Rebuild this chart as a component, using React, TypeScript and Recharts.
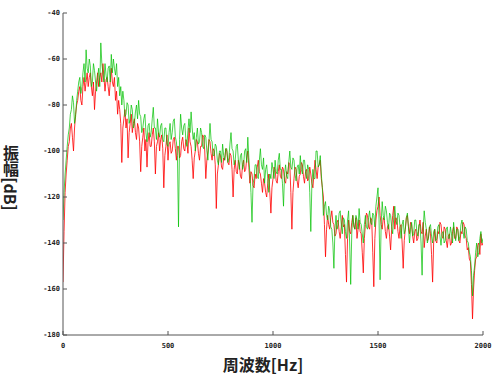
import React from 'react';
import { LineChart, Line, XAxis, YAxis } from 'recharts';

// Frequency grid (Hz), 5 Hz steps from 0 to 2000
const freqs: number[] = Array.from({ length: 401 }, (_, i) => i * 5);

// Green series (dB), one row = 50 Hz
const greenDb: number[] = [
  -130, -118, -110, -104, -98, -93, -90, -84, -82, -76,
  -79, -88, -85, -78, -74, -70, -68, -75, -72, -66,
  -62, -70, -56, -64, -66, -60, -63, -72, -70, -62,
  -65, -70, -74, -68, -64, -72, -53, -62, -66, -70,
  -62, -67, -70, -64, -63, -70, -58, -66, -60, -64,
  -67, -62, -72, -68, -76, -72, -80, -74, -78, -85,
  -84, -79, -80, -88, -86, -80, -82, -90, -88, -83,
  -80, -86, -78, -84, -85, -92, -90, -86, -84, -92,
  -96, -89, -88, -94, -92, -86, -81, -90, -90, -95,
  -86, -92, -94, -89, -88, -95, -96, -90, -90, -97,
  -98, -92, -88, -95, -92, -87, -86, -94, -96, -102,
  -133, -95, -84, -90, -93, -89, -88, -95, -98, -91,
  -86, -92, -83, -90, -95, -92, -100, -94, -90, -97,
  -96, -90, -92, -98, -99, -93, -94, -100, -104, -96,
  -88, -95, -96, -102, -102, -97, -98, -104, -106, -100,
  -100, -105, -97, -102, -104, -99, -99, -105, -103, -97,
  -92, -99, -100, -106, -104, -98, -97, -104, -108, -102,
  -101, -108, -106, -100, -99, -105, -94, -103, -110, -118,
  -131, -114, -112, -106, -106, -111, -112, -104, -99, -106,
  -108, -103, -114, -108, -106, -112, -118, -110, -112, -105,
  -108, -112, -104, -109, -110, -104, -101, -108, -108, -114,
  -124, -110, -106, -111, -112, -105, -100, -107, -108, -103,
  -104, -110, -113, -107, -106, -110, -102, -108, -110, -104,
  -104, -109, -112, -106, -108, -118, -135, -115, -108, -112,
  -112, -100, -100, -107, -106, -102, -110, -116, -128, -124,
  -122, -128, -130, -124, -126, -133, -134, -140, -151, -134,
  -128, -134, -132, -127, -126, -132, -136, -129, -130, -135,
  -138, -130, -126, -140, -158, -136, -128, -132, -134, -128,
  -130, -134, -125, -131, -132, -136, -140, -132, -128, -133,
  -134, -129, -126, -131, -132, -127, -128, -133, -124, -120,
  -116, -130, -156, -132, -122, -128, -130, -124, -126, -131,
  -134, -127, -128, -133, -136, -129, -124, -130, -132, -127,
  -128, -133, -138, -132, -130, -136, -134, -129, -127, -133,
  -140, -134, -131, -137, -136, -130, -130, -135, -137, -132,
  -132, -140, -154, -134, -126, -131, -134, -140, -138, -133,
  -132, -137, -140, -135, -134, -139, -138, -133, -132, -137,
  -141, -136, -135, -140, -139, -134, -133, -138, -138, -133,
  -136, -140, -131, -136, -139, -134, -134, -139, -137, -132,
  -130, -135, -138, -133, -134, -139, -140, -144, -146, -152,
  -163, -154, -150, -144, -140, -146, -144, -138, -135, -140,
  -138,
];

// Red series (dB), one row = 50 Hz
const redDb: number[] = [
  -157, -135, -118, -110, -104, -98, -96, -90, -88, -94,
  -100, -90, -84, -80, -78, -74, -72, -78, -80, -72,
  -68, -74, -70, -66, -72, -68, -66, -72, -76, -70,
  -82, -74, -70, -66, -72, -68, -66, -70, -62, -68,
  -74, -69, -68, -72, -76, -70, -64, -70, -72, -68,
  -78, -74, -84, -78, -82, -88, -105, -90, -86, -82,
  -90, -86, -103, -92, -88, -84, -92, -88, -86, -92,
  -95, -88, -90, -96, -109, -98, -94, -90, -100, -95,
  -107, -96, -92, -98, -98, -93, -90, -96, -110, -98,
  -96, -92, -100, -95, -93, -99, -116, -102, -98, -93,
  -104, -97, -96, -101, -100, -95, -94, -99, -104, -98,
  -98, -103, -102, -96, -94, -99, -100, -95, -96, -101,
  -90, -96, -98, -104, -112, -103, -100, -95, -96, -101,
  -104, -98, -98, -93, -94, -100, -112, -104, -100, -95,
  -96, -101, -104, -99, -100, -106, -125, -110, -106, -101,
  -102, -107, -108, -103, -104, -99, -100, -105, -106, -101,
  -102, -108, -120, -108, -104, -109, -110, -104, -106, -111,
  -112, -106, -104, -109, -108, -103, -100, -107, -114, -109,
  -110, -115, -116, -110, -112, -107, -104, -109, -110, -114,
  -118, -112, -114, -118, -120, -114, -110, -118, -127, -116,
  -112, -107, -108, -113, -114, -109, -106, -111, -112, -107,
  -108, -113, -114, -109, -110, -105, -106, -118, -134, -118,
  -112, -107, -108, -113, -116, -111, -110, -105, -106, -111,
  -114, -109, -108, -113, -112, -107, -110, -114, -116, -110,
  -104, -108, -112, -107, -106, -104, -112, -116, -120, -132,
  -146, -134, -128, -132, -134, -129, -126, -131, -132, -137,
  -136, -131, -130, -135, -138, -133, -128, -133, -132, -145,
  -157, -138, -130, -135, -136, -131, -128, -133, -134, -129,
  -138, -134, -130, -135, -136, -144, -153, -138, -132, -127,
  -128, -133, -134, -129, -130, -144, -159, -138, -130, -126,
  -124, -120, -128, -132, -134, -129, -130, -135, -138, -133,
  -132, -137, -143, -134, -128, -124, -134, -129, -130, -135,
  -138, -133, -132, -140, -151, -139, -134, -129, -128, -133,
  -136, -131, -132, -137, -140, -135, -134, -139, -138, -133,
  -130, -135, -136, -131, -142, -137, -134, -139, -138, -133,
  -136, -145, -157, -140, -134, -139, -140, -135, -136, -131,
  -132, -137, -138, -133, -134, -139, -142, -137, -136, -141,
  -140, -135, -133, -138, -138, -133, -134, -139, -140, -135,
  -136, -131, -132, -137, -138, -143, -142, -147, -148, -158,
  -173, -160, -152, -147, -146, -141, -140, -145, -136, -141,
  -140,
];

const xTicks: number[] = [0, 500, 1000, 1500, 2000];
const yTicks: number[] = [-180, -160, -140, -120, -100, -80, -60, -40];

const xTitle = '周波数[Hz]';
const yTitle = '振幅[dB]';

const data = freqs.map((f, i) => ({ f, red: redDb[i], green: greenDb[i] }));

const tickFont = {
  fontFamily: '"DejaVu Sans Mono", "Liberation Mono", monospace',
  fontSize: 7,
  fontWeight: 'bold' as const,
  fill: '#222',
};

const axisColor = '#555';

export default function App() {
  return (
    <div style={{ position: 'absolute', left: 0, top: 0, background: '#fff' }}>
      <LineChart
        width={495}
        height={376}
        data={data}
        margin={{ top: 13, right: 12, bottom: 21, left: 23 }}
      >
        <XAxis
          xAxisId="bottom"
          dataKey="f"
          type="number"
          domain={[0, 2000]}
          ticks={xTicks}
          height={20}
          tickSize={-4}
          tickMargin={12}
          tick={tickFont}
          axisLine={{ stroke: axisColor }}
          tickLine={{ stroke: axisColor }}
          allowDataOverflow
          label={() => (
            <text
              x={263}
              y={364}
              textAnchor="middle"
              dominantBaseline="central"
              style={{
                fontFamily: '"Noto Sans CJK JP", "Noto Sans", sans-serif',
                fontSize: 16,
                fontWeight: 'bold',
                fill: '#222',
              }}
            >
              {xTitle}
            </text>
          )}
        />
        <XAxis
          xAxisId="top"
          orientation="top"
          dataKey="f"
          type="number"
          domain={[0, 2000]}
          ticks={xTicks}
          height={0}
          tickSize={-4}
          tick={false}
          axisLine={{ stroke: axisColor }}
          tickLine={{ stroke: axisColor }}
          allowDataOverflow
        />
        <YAxis
          yAxisId="left"
          type="number"
          domain={[-180, -40]}
          ticks={yTicks}
          width={40}
          tickSize={-4}
          tickMargin={7}
          tick={tickFont}
          axisLine={{ stroke: axisColor }}
          tickLine={{ stroke: axisColor }}
          allowDataOverflow
          label={() => (
            <text
              x={11}
              y={178}
              textAnchor="middle"
              style={{
                writingMode: 'vertical-rl',
                fontFamily: '"Noto Sans CJK JP", "Noto Sans", sans-serif',
                fontSize: 16,
                fontWeight: 'bold',
                fill: '#222',
              }}
            >
              {yTitle}
            </text>
          )}
        />
        <YAxis
          yAxisId="right"
          orientation="right"
          type="number"
          domain={[-180, -40]}
          ticks={yTicks}
          width={0}
          tickSize={-4}
          tick={false}
          axisLine={{ stroke: axisColor }}
          tickLine={{ stroke: axisColor }}
          allowDataOverflow
        />
        <Line
          xAxisId="bottom"
          yAxisId="left"
          type="linear"
          dataKey="red"
          stroke="#ff0000"
          strokeOpacity={0.8}
          strokeWidth={1}
          dot={false}
          isAnimationActive={false}
        />
        <Line
          xAxisId="bottom"
          yAxisId="left"
          type="linear"
          dataKey="green"
          stroke="#00c000"
          strokeOpacity={0.7}
          strokeWidth={1}
          dot={false}
          isAnimationActive={false}
        />
      </LineChart>
    </div>
  );
}
